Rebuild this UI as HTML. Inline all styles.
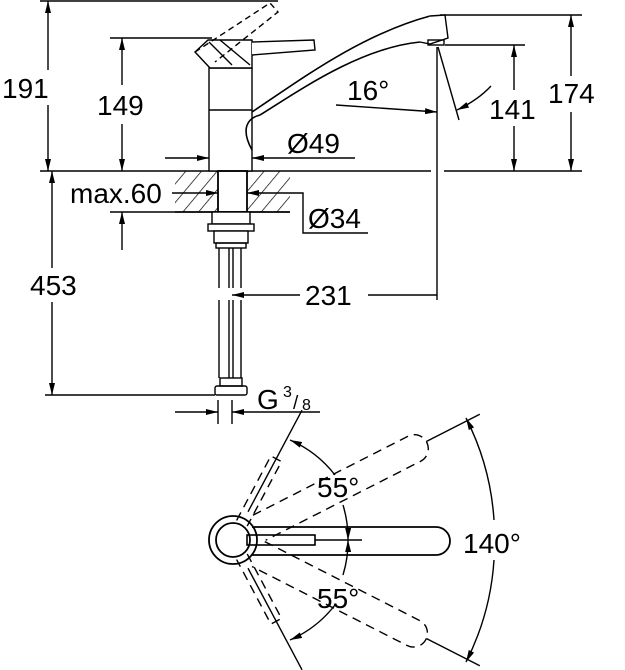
<!DOCTYPE html>
<html><head><meta charset="utf-8"><style>
html,body{margin:0;padding:0;background:#fff;}
svg{display:block}
text{font-family:"Liberation Sans",sans-serif;fill:#000}
</style></head><body>
<svg width="625" height="670" viewBox="0 0 625 670" xmlns="http://www.w3.org/2000/svg">
<defs>
<marker id="a" viewBox="0 0 12 6" refX="12" refY="3" markerWidth="12" markerHeight="6" markerUnits="userSpaceOnUse" orient="auto"><path d="M0,0 L12,3 L0,6z" fill="#000"/></marker>
<pattern id="h" width="12" height="12" patternUnits="userSpaceOnUse" patternTransform="rotate(40)"><line x1="0" y1="0" x2="0" y2="12" stroke="#000" stroke-width="1.4"/></pattern>
</defs>
<g stroke="#000" stroke-width="1.4" fill="none">
<line x1="40" y1="1" x2="278" y2="1"/>
<line x1="110" y1="38" x2="212" y2="38"/>
<line x1="40" y1="171" x2="431" y2="171"/>
<line x1="444" y1="171" x2="582" y2="171"/>
<line x1="440" y1="15" x2="582" y2="15"/>
<line x1="445" y1="45" x2="525" y2="45"/>
<line x1="110" y1="212" x2="290" y2="212"/>
<line x1="45" y1="395" x2="215" y2="395"/>
<line x1="437" y1="47" x2="437" y2="300"/>
<line x1="48" y1="70" x2="48" y2="1" marker-end="url(#a)"/>
<line x1="48" y1="105" x2="48" y2="171" marker-end="url(#a)"/>
<line x1="122" y1="85" x2="122" y2="38" marker-end="url(#a)"/>
<line x1="122" y1="124" x2="122" y2="171" marker-end="url(#a)"/>
<line x1="571" y1="76" x2="571" y2="15" marker-end="url(#a)"/>
<line x1="571" y1="112" x2="571" y2="171" marker-end="url(#a)"/>
<line x1="514" y1="90" x2="514" y2="45" marker-end="url(#a)"/>
<line x1="514" y1="126" x2="514" y2="171" marker-end="url(#a)"/>
<line x1="122" y1="250" x2="122" y2="212" marker-end="url(#a)"/>
<line x1="52" y1="268" x2="52" y2="171" marker-end="url(#a)"/>
<line x1="52" y1="302" x2="52" y2="395" marker-end="url(#a)"/>
<line x1="300" y1="295" x2="232" y2="295" marker-end="url(#a)"/>
<line x1="368" y1="295" x2="437" y2="295"/>
<line x1="165" y1="158" x2="209" y2="158" marker-end="url(#a)"/>
<line x1="355" y1="158" x2="252" y2="158" marker-end="url(#a)"/>
<line x1="172" y1="193" x2="218" y2="193" marker-end="url(#a)"/>
<polyline points="368,233 303,233 303,193 270,193"/>
<line x1="270" y1="193" x2="247" y2="193" marker-end="url(#a)"/>
<line x1="175" y1="412" x2="218" y2="412" marker-end="url(#a)"/>
<line x1="320" y1="412" x2="232" y2="412" marker-end="url(#a)"/>
<line x1="218" y1="400" x2="218" y2="424"/>
<line x1="232" y1="400" x2="232" y2="424"/>
<line x1="336" y1="105" x2="437" y2="112" marker-end="url(#a)"/>
<line x1="438" y1="47" x2="459" y2="120"/>
<path d="M491,86 Q478,100 457,110" marker-end="url(#a)"/>
<rect x="175" y="171" width="115" height="41" fill="url(#h)" stroke="none"/>
<rect x="218" y="171" width="29" height="41" fill="#fff" stroke="none"/>
<line x1="175" y1="212" x2="290" y2="212"/>
<rect x="209" y="68" width="43" height="103" fill="#fff"/>
<line x1="209" y1="110" x2="252" y2="110"/>
<rect x="218" y="171" width="29" height="41" stroke-width="1.8"/>
<path d="M208,40 L252,40 L252,68 L210,68 L195,52 Z" fill="#fff"/>
<path d="M209,42 L232,65 M220,40 L250,65"/>
<path d="M252,42 L314,40 L315,50 L252,55" fill="#fff"/>
<path d="M195,52 L270,3 L278,12 L215,62" stroke-dasharray="6 4"/>
<path d="M252,112 C300,80 360,35 430,16" fill="none" stroke-width="1.6"/>
<path d="M252,150 C240,128 248,118 260,115 C300,90 360,48 420,42" fill="none" stroke-width="1.6"/>
<path d="M430,16 L445,15 L448,38 L430,44 L420,42" fill="#fff"/>
<rect x="428" y="40" width="16" height="5"/>
<rect x="212" y="212" width="38" height="12" fill="#fff"/>
<rect x="208" y="224" width="46" height="7" fill="#fff"/>
<rect x="214" y="231" width="34" height="12" fill="#fff"/>
<rect x="216" y="243" width="30" height="5"/>
<line x1="219" y1="248" x2="219" y2="288"/><line x1="229" y1="248" x2="229" y2="288"/>
<line x1="233" y1="248" x2="233" y2="288"/><line x1="241" y1="248" x2="241" y2="288"/>
<line x1="219" y1="300" x2="219" y2="378"/><line x1="229" y1="300" x2="229" y2="378"/>
<line x1="233" y1="300" x2="233" y2="378"/><line x1="241" y1="300" x2="241" y2="378"/>
<rect x="220" y="378" width="22" height="8"/>
<rect x="215" y="386" width="32" height="9" rx="2"/>
<circle cx="233" cy="540" r="24" stroke-width="1.8"/>
<circle cx="233" cy="540" r="17" stroke-width="1.8"/>
<path d="M252,527 L436,527 A14,14 0 0 1 436,555 L252,555" stroke-width="1.8"/>
<rect x="247" y="535" width="68" height="10" stroke-width="1.6"/>
<line x1="315" y1="540" x2="362" y2="540"/>
<g stroke-dasharray="9 6">
<path transform="rotate(-27 233 540)" d="M262,527 L436,527 A14,14 0 0 1 436,555 L262,555"/>
<path transform="rotate(27 233 540)" d="M262,527 L436,527 A14,14 0 0 1 436,555 L262,555"/>
<path transform="rotate(-62 233 540)" d="M252,534 L325,534 L325,546 L252,546"/>
<path transform="rotate(62 233 540)" d="M252,534 L325,534 L325,546 L252,546"/>
</g>
<line transform="rotate(-62 233 540)" x1="265" y1="540" x2="380" y2="540"/>
<line transform="rotate(62 233 540)" x1="265" y1="540" x2="380" y2="540"/>
<line transform="rotate(-27 233 540)" x1="450" y1="540" x2="510" y2="540"/>
<line transform="rotate(27 233 540)" x1="450" y1="540" x2="510" y2="540"/>
<path d="M335,475 A115,115 0 0 0 290,440" marker-end="url(#a)"/>
<path d="M343,505 A115,115 0 0 1 348,540" marker-end="url(#a)"/>
<path d="M335,605 A115,115 0 0 1 290,640" marker-end="url(#a)"/>
<path d="M343,575 A115,115 0 0 0 348,540" marker-end="url(#a)"/>
<path d="M494,520 A262,262 0 0 0 466,418" marker-end="url(#a)"/>
<path d="M494,560 A262,262 0 0 1 466,662" marker-end="url(#a)"/>
</g>
<g font-size="28">
<text x="2" y="98">191</text>
<text x="97" y="115">149</text>
<text x="347" y="100">16°</text>
<text x="489" y="119">141</text>
<text x="548" y="103">174</text>
<text x="287" y="153">Ø49</text>
<text x="70" y="203">max.60</text>
<text x="308" y="228">Ø34</text>
<text x="30" y="295">453</text>
<text x="305" y="305">231</text>
<text x="257" y="409">G</text>
<text x="317" y="497">55°</text>
<text x="317" y="608">55°</text>
<text x="463" y="553">140°</text>
</g>
<text x="283" y="397" font-size="16">3</text>
<text x="293" y="409" font-size="19">/</text>
<text x="302" y="410" font-size="16">8</text>
</svg>
</body></html>
